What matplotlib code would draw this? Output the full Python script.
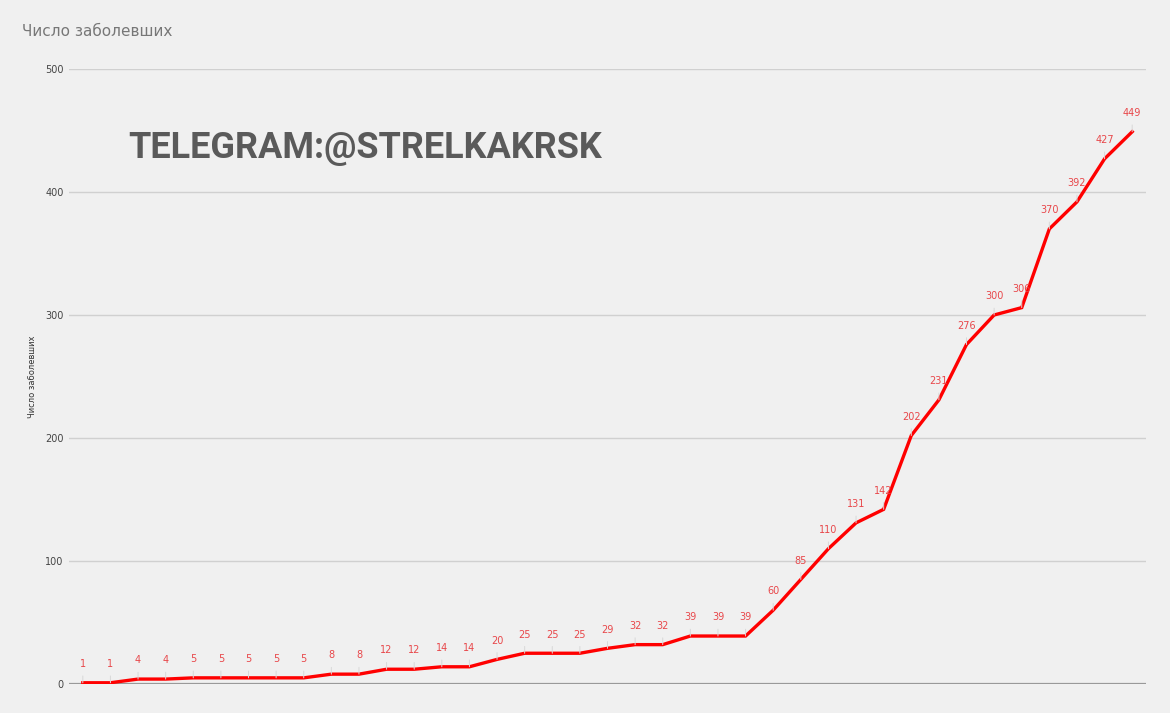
import matplotlib
matplotlib.use("Agg")
import matplotlib.pyplot as plt

values = [1, 1, 4, 4, 5, 5, 5, 5, 5, 8, 8, 12, 12, 14, 14, 20, 25, 25, 25, 29,
          32, 32, 39, 39, 39, 60, 85, 110, 131, 142, 202, 231, 276, 300, 306,
          370, 392, 427, 449]
yticks = [0, 100, 200, 300, 400, 500]
title = "Число заболевших"
watermark = "TELEGRAM:@STRELKAKRSK"

W, H = 1170, 713
fig = plt.figure(figsize=(W / 100, H / 100), dpi=100, facecolor="#f0f0f0")
ax = fig.add_axes([69 / W, (H - 684) / H, (1146 - 69) / W, (684 - 69) / H])
ax.set_facecolor("#f0f0f0")

x = list(range(len(values)))
ax.set_xlim(-0.5, len(values) - 0.5)
ax.set_ylim(0, 500)

for t in yticks[1:]:
    ax.axhline(t, color="#d0d0d0", lw=1, zorder=1)
ax.axhline(0, color="#999999", lw=1.6, zorder=2)

ax.plot(x, values, color="#ff0000", lw=2.4, zorder=4, solid_joinstyle="miter")

for xi, v in zip(x, values):
    ax.annotate(str(v), xy=(xi, v), xytext=(0, 13.5), textcoords="offset points",
                ha="center", va="center", fontsize=7, color="#e8474a",
                arrowprops=dict(arrowstyle="-", color="#d8d8d8", lw=0.7,
                                shrinkA=3, shrinkB=0),
                zorder=5)

for s in ax.spines.values():
    s.set_visible(False)
ax.set_xticks([])
ax.set_yticks(yticks)
ax.set_yticklabels([str(t) for t in yticks], fontsize=7, color="#444444")
ax.tick_params(axis="y", length=0, pad=4)
ax.set_ylabel(title, fontsize=6, color="#333333", labelpad=6)

fig.text(22 / W, 1 - 31 / H, title, fontsize=11, color="#777777", va="center", ha="left")
fig.text(128 / W, 1 - 148 / H, watermark, fontsize=26, fontweight="bold",
         color="#5a5a5a", va="center", ha="left", family="Roboto")

fig.savefig("out.png", dpi=100, facecolor=fig.get_facecolor())
